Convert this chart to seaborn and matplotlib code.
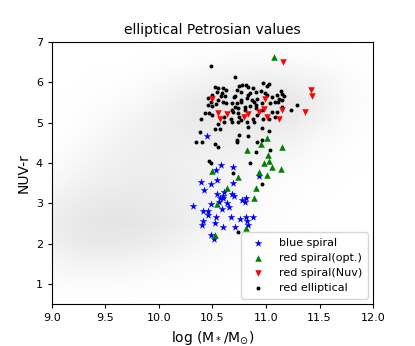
import numpy as np
import pandas as pd
import matplotlib
matplotlib.use("Agg")
import matplotlib.pyplot as plt
from matplotlib.colors import LinearSegmentedColormap
import seaborn as sns

# ---------------- data ----------------
blue_x = [10.45, 10.58, 10.69, 10.53, 10.39, 10.42, 10.54, 10.49, 10.69, 10.93,
          10.54, 10.60, 10.61, 10.68, 10.70, 10.57, 10.60, 10.56, 10.81, 10.78,
          10.80, 10.64, 10.65, 10.59, 10.49, 10.32, 10.41, 10.46, 10.46, 10.53,
          10.67, 10.76, 10.81, 10.88, 10.82, 10.83, 10.41, 10.40, 10.52, 10.60,
          10.71, 10.49, 10.51]
blue_y = [4.66, 3.94, 3.91, 3.82, 3.52, 3.34, 3.57, 3.47, 3.49, 3.67,
          3.22, 3.19, 3.27, 3.24, 3.17, 3.12, 3.12, 3.04, 3.14, 3.07,
          3.02, 3.00, 2.90, 2.87, 2.97, 2.92, 2.82, 2.80, 2.72, 2.65,
          2.67, 2.62, 2.65, 2.65, 2.55, 2.47, 2.57, 2.47, 2.50, 2.42,
          2.42, 2.22, 2.12]

green_x = [11.07, 11.01, 10.95, 11.15, 10.82, 11.02, 10.98, 11.03, 11.06, 11.14,
           10.93, 11.01, 10.74, 10.50, 10.64, 10.91, 10.89, 10.54, 10.81, 10.52]
green_y = [6.62, 4.61, 4.46, 4.39, 4.33, 4.19, 3.99, 4.04, 3.89, 3.84,
           3.77, 3.69, 3.64, 3.81, 3.39, 3.37, 3.12, 2.97, 2.38, 2.22]

red_x = [11.16, 11.42, 11.43, 11.36, 10.99, 11.15, 11.12, 10.98, 11.01, 10.93,
         10.79, 10.83, 10.64, 10.55, 10.57, 10.50]
red_y = [6.50, 5.80, 5.65, 5.25, 5.58, 5.30, 5.08, 5.33, 5.15, 5.25,
         5.13, 5.20, 5.20, 5.23, 5.08, 5.58]

ell_x = [10.49, 10.71, 10.52, 10.55, 10.60, 10.63, 10.54, 10.59, 10.50, 10.46,
         10.49, 10.53, 10.46, 10.43, 10.39, 10.38, 10.35, 10.40, 10.52, 10.55,
         10.52, 10.55, 10.61, 10.67, 10.74, 10.75, 10.68, 10.74, 10.80, 10.77,
         10.70, 10.83, 10.88, 10.91, 10.83, 10.78, 10.73, 10.75, 10.83, 10.89,
         10.91, 10.62, 10.73, 10.77, 10.85, 10.97, 11.01, 11.03, 10.95, 10.99,
         11.01, 11.06, 11.10, 11.14, 11.15, 11.17, 11.12, 11.15, 11.08, 11.04,
         10.96, 10.92, 10.91, 11.23, 11.29, 11.06, 11.08, 10.92, 10.97, 11.03,
         10.96, 11.03, 10.92, 11.04, 10.81, 10.60, 10.63, 10.68, 10.73, 10.77,
         10.82, 10.87, 10.89, 10.71, 10.85, 10.96, 10.69, 10.74, 10.61, 10.68,
         10.77, 10.82, 10.88, 11.15, 10.47, 10.50, 10.57, 10.83, 10.47, 10.49,
         10.69, 10.85, 10.96, 10.74, 10.50, 10.58, 10.71, 10.75, 10.55, 11.10,
         11.11, 10.80, 10.91, 10.96, 10.73]
ell_y = [6.40, 6.12, 5.88, 5.85, 5.85, 5.80, 5.75, 5.73, 5.68, 5.60,
         5.50, 5.45, 5.43, 5.23, 5.08, 4.76, 4.53, 4.51, 4.48, 4.39,
         4.83, 4.96, 5.01, 5.08, 5.01, 5.13, 5.30, 5.35, 5.30, 5.55,
         5.63, 5.68, 5.85, 5.75, 5.88, 5.92, 4.58, 4.68, 4.88, 5.01,
         4.26, 5.65, 5.80, 5.75, 5.73, 5.97, 5.90, 5.95, 5.78, 5.73,
         5.68, 5.63, 5.68, 5.78, 5.70, 5.65, 5.58, 5.55, 5.50, 5.48,
         5.48, 5.58, 5.43, 5.30, 5.43, 5.25, 5.15, 5.18, 5.08, 5.08,
         4.86, 4.78, 4.51, 4.33, 5.92, 5.50, 5.48, 5.48, 5.48, 5.50,
         5.60, 5.55, 5.50, 5.38, 5.40, 5.30, 5.25, 5.23, 5.13, 5.01,
         5.06, 5.01, 5.08, 5.38, 5.23, 5.18, 4.83, 4.66, 4.04, 3.99,
         3.74, 3.99, 3.47, 2.30, 5.40, 5.65, 5.65, 5.90, 5.55, 5.25,
         5.50, 5.38, 5.35, 4.58, 4.51]

# background galaxy density (rows: NUV-r 0.5..7.0, cols: log M 9.0..12.0)
bg_mass = [9.0, 9.25, 9.5, 9.75, 10.0, 10.25, 10.5, 10.75, 11.0, 11.25, 11.5, 11.75, 12.0]
bg_color = [0.5, 1.0, 1.5, 2.0, 2.5, 3.0, 3.5, 4.0, 4.5, 5.0, 5.5, 6.0, 6.5, 7.0]
bg_density = [
    [0, 0, 0, 0, 0, 0, 0, 0, 0, 0, 0, 0, 0],
    [.08, .10, .10, .08, .05, .03, .02, 0, 0, 0, 0, 0, 0],
    [.20, .30, .30, .25, .18, .12, .08, .04, 0, 0, 0, 0, 0],
    [.40, .55, .60, .55, .45, .30, .18, .08, .03, 0, 0, 0, 0],
    [.45, .62, .70, .70, .60, .45, .30, .15, .06, .02, 0, 0, 0],
    [.35, .50, .60, .60, .55, .45, .32, .18, .08, .03, 0, 0, 0],
    [.18, .35, .45, .50, .50, .42, .32, .22, .12, .05, .02, 0, 0],
    [.06, .20, .35, .45, .45, .40, .35, .30, .25, .15, .05, .02, 0],
    [.02, .10, .25, .38, .45, .45, .45, .45, .40, .30, .15, .05, 0],
    [0, .04, .14, .28, .42, .52, .60, .62, .60, .50, .30, .10, .02],
    [0, .02, .06, .15, .30, .45, .60, .70, .72, .60, .40, .15, .03],
    [0, 0, .02, .05, .15, .25, .35, .42, .45, .40, .28, .10, .02],
    [0, 0, 0, 0, .03, .06, .10, .14, .15, .12, .08, .03, 0],
    [0, 0, 0, 0, 0, 0, 0, 0, 0, 0, 0, 0, 0],
]

title = "elliptical Petrosian values"
xlabel = r"log (M$_*$/M$_{\odot}$)"
ylabel = "NUV-r"
labels = ["blue spiral", "red spiral(opt.)", "red spiral(Nuv)", "red elliptical"]

# ---------------- plot ----------------
plt.rcParams["font.family"] = ["DejaVu Sans"]
fig = plt.figure(figsize=(4.15, 3.46), dpi=100)
ax = fig.add_axes([0.125, 0.121, 0.774, 0.758])

dx = bg_mass[1] - bg_mass[0]
dy = bg_color[1] - bg_color[0]
cmap = LinearSegmentedColormap.from_list("bg", ["#ffffff", "#dadada"])
ax.imshow(np.array(bg_density), origin="lower", aspect="auto", cmap=cmap,
          vmin=0, vmax=1, interpolation="bilinear", zorder=0,
          extent=(bg_mass[0] - dx / 2, bg_mass[-1] + dx / 2,
                  bg_color[0] - dy / 2, bg_color[-1] + dy / 2))

sns.scatterplot(x=blue_x, y=blue_y, marker="*", color="blue", s=34,
                linewidth=0, label=labels[0], ax=ax, zorder=3)
sns.scatterplot(x=green_x, y=green_y, marker="^", color="green", s=22,
                linewidth=0, label=labels[1], ax=ax, zorder=3)
sns.scatterplot(x=red_x, y=red_y, marker="v", color="red", s=22,
                linewidth=0, label=labels[2], ax=ax, zorder=3)
sns.scatterplot(x=ell_x, y=ell_y, marker="o", color="black", s=8,
                linewidth=0, label=labels[3], ax=ax, zorder=2)

ax.set_xlim(9.0, 12.0)
ax.set_ylim(0.5, 7.0)
ax.set_xticks([9.0, 9.5, 10.0, 10.5, 11.0, 11.5, 12.0])
ax.set_yticks([1, 2, 3, 4, 5, 6, 7])
ax.tick_params(labelsize=8, length=3, width=0.8, direction="out")
ax.set_title(title, fontsize=10)
ax.set_xlabel(xlabel, fontsize=10)
ax.set_ylabel(ylabel, fontsize=10)
for sp in ax.spines.values():
    sp.set_linewidth(0.8)

leg = ax.legend(loc="lower right", fontsize=8, frameon=True, framealpha=0.8,
                borderpad=0.5, handletextpad=0.9, labelspacing=0.45, markerscale=1.0)

fig.savefig("out.png", dpi=100)
